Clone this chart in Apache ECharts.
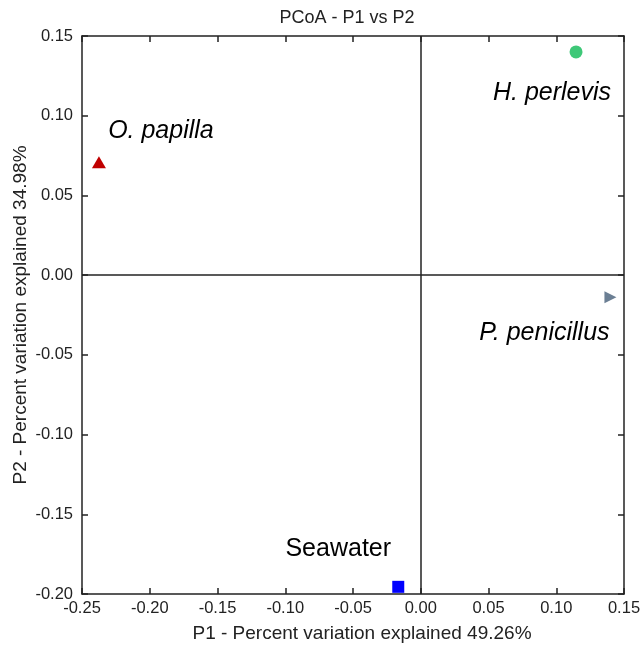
<!DOCTYPE html>
<html><head><meta charset="utf-8">
<script src="https://cdn.jsdelivr.net/npm/echarts@6/dist/echarts.min.js"></script>
<style>html,body{margin:0;padding:0;background:#fff}#c{width:640px;height:661px}</style>
</head><body><div id="c"></div>
<script>
const samples = ['O. papilla', 'H. perlevis', 'P. penicillus', 'Seawater'];
const p1 = [-0.2375, 0.1146, 0.140, -0.0166];
const p2 = [0.0708, 0.140, -0.0138, -0.1955];
const xRange = [-0.25, 0.15];
const yRange = [-0.20, 0.15];
const tickStep = 0.05;
const titleText = 'PCoA - P1 vs P2';
const xName = 'P1 - Percent variation explained 49.26%';
const yName = 'P2 - Percent variation explained 34.98%';

const symbols = ['triangle', 'circle', 'path://M0,0 L10,5 L0,10 Z', 'rect'];
const sizes = [[14, 12], 13, [12, 12], 12];
const colors = ['#c00000', '#3ec878', '#6b7f94', '#0000ff'];
const italic = ['italic', 'italic', 'italic', 'normal'];
const offsets = [[62, -31], [-24, 41], [-66, 36], [-60, -38]];

const font = 'Liberation Sans, Arial, sans-serif';
const data = samples.map((s, i) => ({
  name: s,
  value: [p1[i], p2[i]],
  symbol: symbols[i],
  symbolSize: sizes[i],
  itemStyle: { color: colors[i], opacity: 1 },
  label: {
    show: true, formatter: s, position: 'inside', offset: offsets[i],
    fontSize: 25, fontStyle: italic[i], color: '#000', fontFamily: font, opacity: 1
  }
}));

const axisCommon = {
  interval: tickStep,
  axisLine: { show: true, onZero: false, lineStyle: { color: '#222', width: 1.5 } },
  axisTick: { show: true, inside: true, length: 6, lineStyle: { color: '#222', width: 1.5 } },
  splitLine: { show: false }
};
const chart = echarts.init(document.getElementById('c'));
chart.setOption({
  backgroundColor: '#fff',
  animation: false,
  title: {
    text: titleText, left: 342, top: 4, textAlign: 'center',
    textStyle: { fontSize: 18, fontWeight: 'normal', color: '#222', fontFamily: font }
  },
  grid: { left: 82, right: 16, top: 36, bottom: 67, containLabel: false, outerBoundsMode: 'none' },
  xAxis: [
    Object.assign({}, axisCommon, {
      type: 'value', position: 'bottom', min: xRange[0], max: xRange[1],
      name: xName, nameLocation: 'middle', nameGap: 30,
      nameTextStyle: { fontSize: 19, color: '#222', fontFamily: font, padding: [0, 0, 0, 18] },
      axisLabel: { margin: 6, fontSize: 16.5, color: '#222', fontFamily: font, formatter: v => v.toFixed(2) }
    }),
    Object.assign({}, axisCommon, {
      type: 'value', position: 'top', min: xRange[0], max: xRange[1], axisLabel: { show: false }
    })
  ],
  yAxis: [
    Object.assign({}, axisCommon, {
      type: 'value', position: 'left', min: yRange[0], max: yRange[1],
      name: yName, nameLocation: 'middle', nameGap: 52, nameMoveOverlap: false,
      nameTextStyle: { fontSize: 19, color: '#222', fontFamily: font },
      axisLabel: { margin: 9, fontSize: 16.5, color: '#222', fontFamily: font, formatter: v => v.toFixed(2) }
    }),
    Object.assign({}, axisCommon, {
      type: 'value', position: 'right', min: yRange[0], max: yRange[1], axisLabel: { show: false }
    })
  ],
  series: [{
    type: 'scatter',
    xAxisIndex: 0, yAxisIndex: 0,
    data: data,
    markLine: {
      silent: true, symbol: 'none', animation: false,
      label: { show: false },
      lineStyle: { color: '#222', width: 1.5, type: 'solid' },
      data: [{ xAxis: 0 }, { yAxis: 0 }]
    }
  }]
});
</script></body></html>
